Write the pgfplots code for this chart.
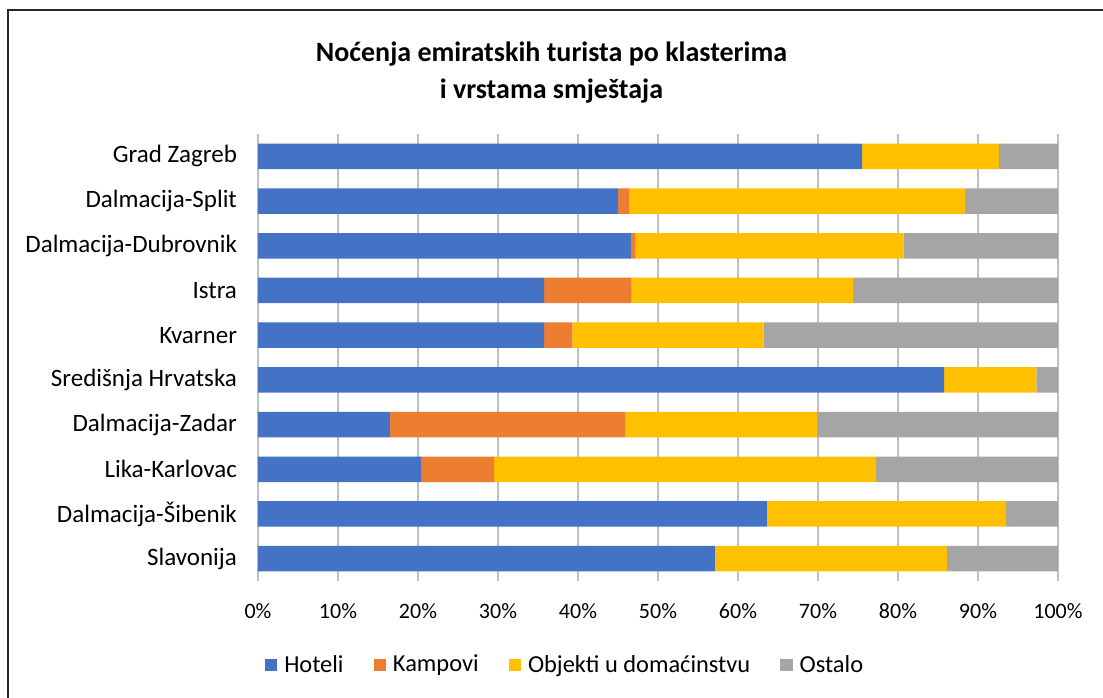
\documentclass[border=0pt]{standalone}
\usepackage{pgfplots}
\pgfplotsset{compat=1.18}
\usepackage{fontspec}
\setmainfont{Carlito}
\definecolor{cH}{HTML}{4472C4}
\definecolor{cK}{HTML}{ED7D31}
\definecolor{cO}{HTML}{FFC000}
\definecolor{cS}{HTML}{A5A5A5}
\definecolor{grid}{HTML}{D9D9D9}
\begin{document}
\begin{tikzpicture}
\useasboundingbox (-129pt,-58pt) rectangle (422.5pt,290.5pt);
\draw[line width=1pt, black!85] (-125pt,-80pt) -- (-125pt,285.5pt) -- (440pt,285.5pt);
\node[font=\fontsize{14}{18.5}\selectfont\bfseries, align=center] at (146.75pt,254pt)
  {Noćenja emiratskih turista po klasterima\\ i vrstama smještaja};
\begin{axis}[
  at={(0pt,0pt)}, anchor=south west,
  scale only axis, width=400pt, height=223.5pt,
  xbar stacked, bar width=12.75pt,
  xmin=0, xmax=100, ymin=-0.5, ymax=9.5,
  xtick={0,10,...,100},
  xticklabel={\pgfmathprintnumber{\tick}\%},
  /pgf/number format/assume math mode=true,
  xticklabel style={font=\fontsize{11}{13}\selectfont, yshift=-7.5pt},
  ytick={0,...,9},
  yticklabels={Slavonija, Dalmacija-Šibenik, Lika-Karlovac, Dalmacija-Zadar, Središnja Hrvatska, Kvarner, Istra, Dalmacija-Dubrovnik, Dalmacija-Split, Grad Zagreb},
  yticklabel style={font=\fontsize{12.5}{14}\selectfont, xshift=-7pt},
  major tick length=0pt,
  axis line style={draw=none},
  xmajorgrids, major grid style={grid, line width=1pt},
  legend columns=4,
  legend style={at={(0.385,-0.188)}, anchor=center, draw=none, fill=none,
    font=\fontsize{12.2}{14}\selectfont,
    /tikz/every odd column/.append style={column sep=1.5pt},
    /tikz/every even column/.append style={column sep=13pt}},
  legend image code/.code={\fill[#1] (0pt,-3.2pt) rectangle (6.2pt,3.2pt);},
]
\addplot[fill=cH, draw=none] coordinates {(57.1,0) (63.6,1) (20.4,2) (16.5,3) (85.75,4) (35.75,5) (35.75,6) (46.6,7) (45.0,8) (75.5,9)};
\addplot[fill=cK, draw=none] coordinates {(0,0) (0,1) (9.1,2) (29.4,3) (0,4) (3.55,5) (10.95,6) (0.6,7) (1.4,8) (0,9)};
\addplot[fill=cO, draw=none] coordinates {(29.0,0) (29.9,1) (47.75,2) (24.0,3) (11.55,4) (23.9,5) (27.7,6) (33.5,7) (42.0,8) (17.1,9)};
\addplot[fill=cS, draw=none] coordinates {(13.9,0) (6.5,1) (22.75,2) (30.1,3) (2.7,4) (36.8,5) (25.6,6) (19.3,7) (11.6,8) (7.4,9)};
\legend{Hoteli, Kampovi, Objekti u domaćinstvu, Ostalo}
\end{axis}
\end{tikzpicture}
\end{document}
